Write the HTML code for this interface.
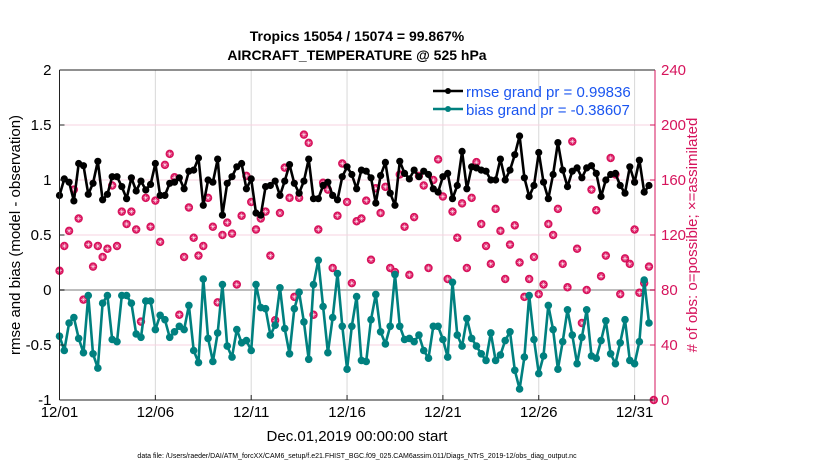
<!DOCTYPE html>
<html><head><meta charset="utf-8"><style>
body{margin:0;background:#fff;font-family:"Liberation Sans",sans-serif}
svg text{font-family:"Liberation Sans",sans-serif}
</style></head><body>
<svg id="chart" width="830" height="470" xmlns="http://www.w3.org/2000/svg">
<g id="grid"></g>
<g id="marks"></g>
<g id="axes"></g>
<text x="357" y="41" text-anchor="middle" font-size="14" font-weight="bold">Tropics 15054 / 15074 = 99.867%</text>
<text x="357" y="60" text-anchor="middle" font-size="14" font-weight="bold">AIRCRAFT_TEMPERATURE @ 525 hPa</text>
<text x="357" y="441" text-anchor="middle" font-size="15">Dec.01,2019 00:00:00 start</text>
<text transform="translate(20,235) rotate(-90)" text-anchor="middle" font-size="15">rmse and bias (model - observation)</text>
<text transform="translate(697,235) rotate(-90)" text-anchor="middle" font-size="15" fill="#d6145c"># of obs: o=possible; ×=assimilated</text>
<text x="357" y="458" text-anchor="middle" font-size="7">data file: /Users/raeder/DAI/ATM_forcXX/CAM6_setup/f.e21.FHIST_BGC.f09_025.CAM6assim.011/Diags_NTrS_2019-12/obs_diag_output.nc</text>
<g>
<line x1="433" y1="91" x2="463" y2="91" stroke="#000" stroke-width="2.5"/><circle cx="448" cy="91" r="3" fill="#000"/>
<text x="466" y="97" font-size="15" fill="#1a55f0">rmse grand pr = 0.99836</text>
<line x1="433" y1="109" x2="463" y2="109" stroke="#00807f" stroke-width="2.5"/><circle cx="448" cy="109" r="3" fill="#00807f"/>
<text x="466" y="115" font-size="15" fill="#1a55f0">bias grand pr = -0.38607</text>
</g>
</svg>
<script>
const rmse=[0.86,1.01,0.98,0.81,1.15,1.13,0.87,0.97,1.17,0.82,0.87,1.03,1.03,0.94,0.83,1.02,0.90,0.99,0.91,0.96,1.15,0.86,0.86,0.97,0.98,1.02,0.92,1.08,1.09,1.20,0.77,1.0,
0.98,1.19,0.68,0.97,1.03,1.12,1.15,0.92,1.01,0.70,0.68,0.94,0.95,0.99,0.86,0.99,1.14,0.97,0.88,0.99,1.19,0.83,0.83,0.95,0.98,0.86,0.82,1.03,1.12,1.05,0.92,
1.09,1.08,1.02,0.79,1.04,1.16,0.88,0.77,1.17,1.06,1.01,1.09,1.03,1.08,1.05,0.92,0.89,1.03,1.06,0.83,0.95,1.26,0.92,1.12,1.11,1.09,1.08,1.0,1.0,1.19,1.0,
1.09,1.23,1.40,1.02,0.85,0.95,1.25,0.98,0.83,1.05,1.34,1.09,0.94,1.08,1.11,1.02,1.11,1.13,1.06,0.85,1.0,1.05,1.06,0.95,0.88,1.12,0.98,1.18,0.89,0.95,null];
const bias=[-0.42,-0.55,-0.30,-0.25,-0.44,-0.57,-0.05,-0.58,-0.71,-0.12,-0.05,-0.45,-0.47,-0.05,-0.05,-0.12,-0.40,-0.43,-0.10,-0.10,-0.36,-0.23,-0.27,-0.43,-0.38,-0.33,-0.36,-0.14,-0.55,-0.66,0.10,-0.44,
-0.65,-0.39,0.05,-0.51,-0.61,-0.36,-0.48,-0.46,-0.55,0.05,-0.16,-0.17,-0.41,-0.32,0.02,-0.35,-0.58,-0.17,-0.02,-0.29,-0.63,0.05,0.27,-0.15,-0.57,-0.25,0.15,-0.33,-0.72,-0.33,-0.06,
-0.64,-0.65,-0.27,-0.04,-0.38,-0.49,-0.33,0.14,-0.33,-0.45,-0.44,-0.47,-0.41,-0.55,-0.62,-0.33,-0.33,-0.45,-0.61,0.07,-0.41,-0.51,-0.26,-0.44,-0.51,-0.58,-0.64,-0.39,-0.64,-0.59,-0.46,
-0.38,-0.73,-0.90,-0.61,-0.05,-0.45,-0.76,-0.60,-0.14,-0.36,-0.72,-0.47,-0.18,-0.41,-0.67,-0.43,-0.18,-0.60,-0.62,-0.46,-0.28,-0.58,-0.67,-0.48,-0.27,-0.64,-0.67,-0.47,0.09,-0.30,null];
const nobs=[94,112,123,153,132,73,113,97,112,104,110,156,112,137,128,137,124,57,147,126,145,115,171,179,162,62,104,140,118,105,112,147,
126,71,120,129,121,84,134,163,144,124,132,137,105,58,136,169,147,75,147,193,187,62,124,158,153,96,134,172,144,85,130,
132,145,102,154,136,155,96,93,164,126,91,133,163,156,96,160,175,148,88,137,118,143,96,147,173,128,112,99,139,123,88,
113,127,100,75,88,104,77,84,128,120,139,99,82,188,110,56,80,153,138,90,105,176,164,77,103,99,124,78,85,97,0];
const xTickLabels=["12/01","12/06","12/11","12/16","12/21","12/26","12/31"];
const xTickDays=[0,5,10,15,20,25,30];
const yTicks=[-1,-0.5,0,0.5,1,1.5,2];
const y2Ticks=[0,40,80,120,160,200,240];
const dt=0.25;

const NS="http://www.w3.org/2000/svg";
const L=59.5,R=655,T=70,B=400;
const xs=d=>L+d*19.17;
const ys=v=>B-(v+1)/3*(B-T);
const ys2=c=>B-c/240*(B-T);
function mk(p,tag,at){const e=document.createElementNS(NS,tag);for(const k in at)e.setAttribute(k,at[k]);p.appendChild(e);return e;}
const grid=document.getElementById('grid'),marks=document.getElementById('marks'),axes=document.getElementById('axes');

xTickDays.forEach((d,i)=>{
  const g=mk(grid,'line',{x1:xs(d),x2:xs(d),y1:T,y2:B,stroke:'#d8d8d8','stroke-width':1});
  
  
  mk(axes,'line',{x1:xs(d),x2:xs(d),y1:B,y2:B-5,stroke:'#222'});
  const t=mk(axes,'text',{x:xs(d),y:B+17,'text-anchor':'middle','font-size':15});
  t.textContent=xTickLabels[i];
  
  
});
y2Ticks.forEach(c=>{
  if(c>0&&c<240){const g=mk(grid,'line',{x1:L,x2:R,y1:ys2(c),y2:ys2(c),stroke:'#f7d3e0','stroke-width':1});
  
  }
  mk(axes,'line',{x1:R,x2:R-5,y1:ys2(c),y2:ys2(c),stroke:'#d6145c'});
  const t=mk(axes,'text',{x:R+6,y:ys2(c)+5,'font-size':15,fill:'#d6145c'});
  t.textContent=c;
  
  
});
yTicks.forEach(v=>{
  mk(axes,'line',{x1:L,x2:L+5,y1:ys(v),y2:ys(v),stroke:'#222'});
  const t=mk(axes,'text',{x:L-8,y:ys(v)+5,'text-anchor':'end','font-size':15});
  t.textContent=v;
  
  
});
const zl=mk(grid,'line',{x1:L,x2:R,y1:ys(0),y2:ys(0),stroke:'#bdbdbd','stroke-width':2});


mk(axes,'line',{x1:L,x2:L,y1:T,y2:B,stroke:'#222'});
mk(axes,'line',{x1:L,x2:R,y1:B,y2:B,stroke:'#222'});
mk(axes,'line',{x1:L,x2:R,y1:T,y2:T,stroke:'#222'});
mk(axes,'line',{x1:R,x2:R,y1:T,y2:B,stroke:'#d6145c'});

nobs.forEach((c,i)=>{
  const x=xs(i*dt),y=ys2(c);
  const g=mk(marks,'g',{});
  
  
  mk(g,'circle',{cx:x,cy:y,r:3.7,fill:'#dc1460',stroke:'#d6145c','stroke-width':1});
  mk(g,'path',{d:`M${x-2.5} ${y}H${x+2.5}M${x} ${y-2.5}V${y+2.5}M${x-1.8} ${y-1.8}L${x+1.8} ${y+1.8}M${x-1.8} ${y+1.8}L${x+1.8} ${y-1.8}`,stroke:'#fff','stroke-width':0.5});
});
function series(arr,col,name,mark){
  let d='';arr.forEach((v,i)=>{if(v==null)return;d+=(d?'L':'M')+xs(i*dt).toFixed(1)+' '+ys(v).toFixed(1);});
  const p=mk(marks,'path',{d:d,fill:'none',stroke:col,'stroke-width':2.6,'stroke-linejoin':'round'});
  
  
  arr.forEach((v,i)=>{if(v==null)return;
    const c=mk(marks,'circle',{cx:xs(i*dt),cy:ys(v),r:mark,fill:col});
    
    
  });
}
series(bias,'#00807f','bias',3.8);
series(rmse,'#000','rmse',3.6);
</script>
</body></html>
